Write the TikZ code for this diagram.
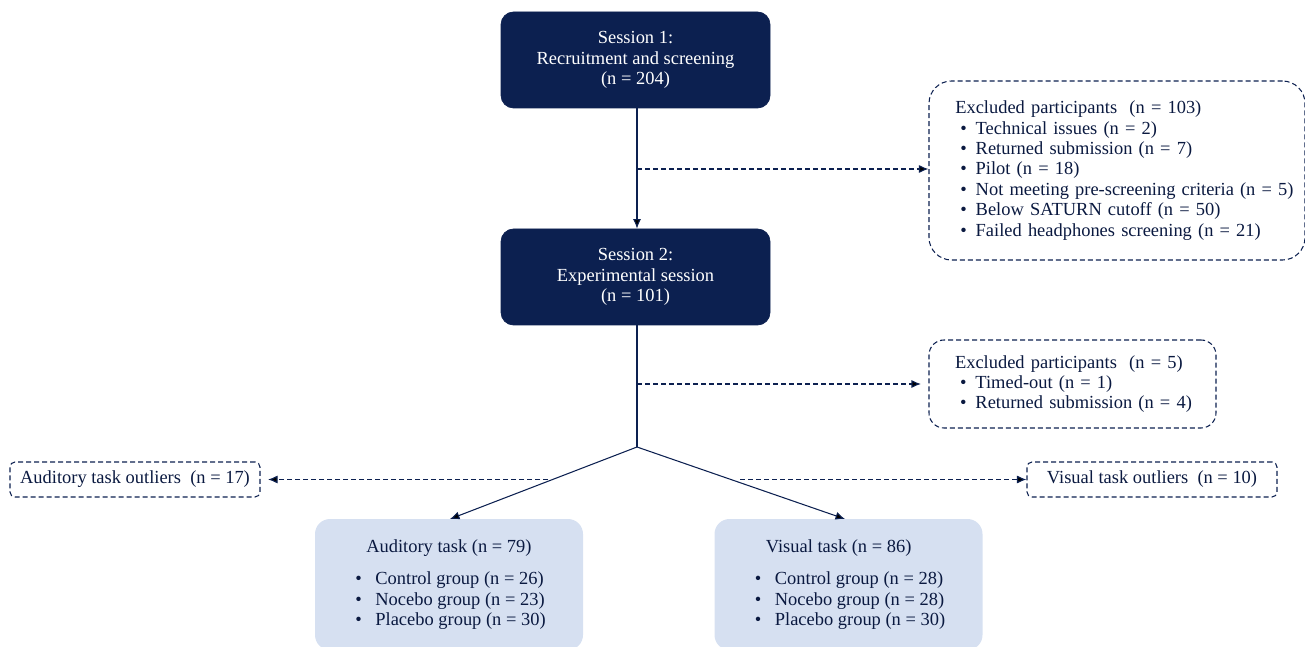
\documentclass[tikz,border=0pt]{standalone}
\usepackage{fontspec}
\setmainfont{Liberation Serif}
\usepackage{xcolor}
\usepackage{tikz}
\usetikzlibrary{
	arrows.meta,shapes
}
\definecolor{navy}{HTML}{0C2050}
\definecolor{paleblue}{HTML}{D6E0F1}

\tikzset{
	session/.style={draw=navy,fill=navy,text=white,rounded corners=0.25cm,
		minimum width=5.38cm,minimum height=1.92cm,align=center},
	excluded/.style={draw=navy,line width=0.6pt,dash pattern=on 1mm off 0.6mm,rounded corners=0.45cm,
		align=left,inner xsep=0.38cm},
	outlier/.style={draw=navy,line width=0.6pt,dash pattern=on 1mm off 0.6mm,rounded corners=0.1cm,
		minimum width=5cm,minimum height=0.7cm},
	taskbox/.style={fill=paleblue,rounded corners=0.3cm,
		minimum width=5.36cm,minimum height=2.62cm,align=left}
}
\newcommand{\itm}[1][0.24cm]{\hspace*{#1}\textbullet\hspace*{0.18cm}}

\begin{document}
\begin{tikzpicture}[font=\fontsize{10.5}{11.6}\selectfont,text=navy!80!black]
		\useasboundingbox (0,0) rectangle (26.1,-12.94);

		\node[session] (S1) at (12.71,-1.2) {Session 1:\\ Recruitment and screening\\ (n = 204)};
		\node[session] (S2) at (12.71,-5.54) {Session 2:\\ Experimental session\\ (n = 101)};

		\node[excluded,minimum width=7.52cm,minimum height=3.58cm,text width=6.75cm] (E1) at (22.34,-3.41)
			{\hspace*{0.14cm}Excluded participants\ \ (n = 103)\\
			\itm Technical issues (n = 2)\\
			\itm Returned submission (n = 7)\\
			\itm Pilot (n = 18)\\
			\itm \mbox{Not meeting pre-screening criteria (n = 5)}\\
			\itm Below SATURN cutoff (n = 50)\\
			\itm Failed headphones screening (n = 21)};
		\node[excluded,minimum width=5.74cm,minimum height=1.76cm,text width=4.98cm,rounded corners=0.3cm] (E2) at (21.45,-7.68)
			{\hspace*{0.14cm}Excluded participants\ \ (n = 5)\\
			\itm Timed-out (n = 1)\\
			\itm Returned submission (n = 4)};

		\node[outlier] (AO) at (2.7,-9.59) {Auditory task outliers\ \ (n = 17)};
		\node[outlier] (VO) at (23.04,-9.59) {Visual task outliers\ \ (n = 10)};

		\node[taskbox] (AT) at (8.98,-11.69)
			{\hspace*{0.28cm}Auditory task (n = 79)\\[0.25cm]
			\itm[0.06cm] Control group (n = 26)\\
			\itm[0.06cm] Nocebo group (n = 23)\\
			\itm[0.06cm] Placebo group (n = 30)};
		\node[taskbox] (VT) at (16.97,-11.69)
			{\hspace*{0.28cm}Visual task (n = 86)\\[0.25cm]
			\itm[0.06cm] Control group (n = 28)\\
			\itm[0.06cm] Nocebo group (n = 28)\\
			\itm[0.06cm] Placebo group (n = 30)};

		\coordinate (J) at (12.74,-8.94);
		\coordinate (Ja) at (9.0,-10.38);
		\coordinate (Jv) at (16.9,-10.38);
		\coordinate (D1) at (12.74,-3.38);
		\coordinate (D2) at (12.74,-7.68);
		\coordinate (Da) at (10.96,-9.59);
		\coordinate (Dv) at (14.8,-9.59);
		%
		\path[draw=navy,semithick,>={Latex[length=1.9mm,width=1.6mm]}]
			(S1.south -| J) edge[->] (S2.north -| J)
			(S2.south -| J) edge (J)
			(J) edge[->] (Ja)
			(J) edge[->] (Jv);
		\path[draw=navy,line width=0.6pt,dash pattern=on 1mm off 0.6mm,>={Latex[length=1.9mm,width=1.6mm]}]
			(D1) edge[->] (D1 -| E1.west)
			(D2) edge[->] ([xshift=-0.15cm]D2 -| E2.west)
			(Da) edge[->] ([xshift=0.15cm]AO.east)
			(Dv) edge[->] (VO.west);

	\end{tikzpicture}
\end{document}
